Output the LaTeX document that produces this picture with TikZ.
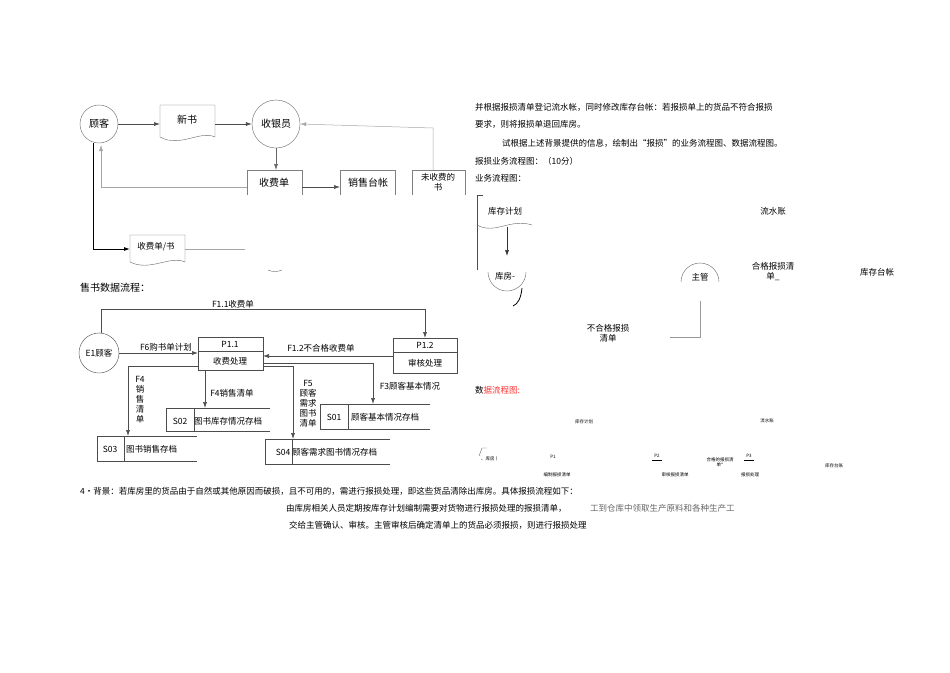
\documentclass[tikz,border=0pt]{standalone}
\usepackage{fontspec}
\setmainfont{Noto Sans CJK SC}
\usetikzlibrary{arrows.meta}
\begin{document}
\begin{tikzpicture}[x=1pt,y=-1pt,
  t/.style={font=\fontsize{10}{12}\selectfont,inner sep=0pt},
  ts/.style={font=\fontsize{8.5}{10}\selectfont,inner sep=0pt},
  tt/.style={font=\fontsize{4.5}{5}\selectfont,inner sep=0pt},
  ln/.style={draw=black!70,line width=0.6pt},
  ar/.style={ln,-{Latex[length=6pt,width=4pt]}},
  thin/.style={draw=black!35,line width=0.5pt}]
\useasboundingbox (0,0) rectangle (950,672);
% ---------- top-left business flow
\node[circle,draw=black!60,minimum size=38pt,t] (gk) at (99,124) {顾客};
\draw[draw=black!60] (160,105) -- (215,105) -- (215,137) .. controls (200,130) and (180,148) .. (160,137) -- cycle;
\node[t] (xs) at (187,120) {新书};
\node[circle,draw=black!60,minimum size=48pt,t] (sy) at (276,124) {收银员};
\draw[ar] (gk.east) -- (160,124);
\draw[ar] (215,124) -- (sy.west);
\draw[draw=black!50] (247,195) -- (247,170) -- (302,170) -- (302,195);
\node[t] (sfd) at (274,183) {收费单};
\draw[draw=black!50] (340,195) -- (340,170) -- (395,170) -- (395,195);
\node[t] (xstz) at (368,183) {销售台帐};
\draw[draw=black!50] (412,195) -- (412,170) -- (465,170) -- (465,195);
\node[ts,align=center] (wsf) at (438,182) {未收费的\\书};
\draw[ar,draw=black!60] (sy.south) -- (276,170);
\draw[ar] (302,187) -- (340,187);
\draw[thin,-{Latex[length=6pt,width=4pt]}] (247,187) -- (101,187) -- (101,145);
\draw[thin,-{Latex[length=6pt,width=4pt]}] (433,170) -- (433,128) -- (sy.east);
\draw[draw=black!60] (130,235) -- (185,235) -- (185,262) .. controls (170,255) and (150,272) .. (130,262) -- cycle;
\node[ts] (sfs) at (156,247) {收费单/书};
\draw[line width=0.9pt,-{Latex[length=6pt,width=4pt]}] (93,143) -- (93,249) -- (130,249);
\draw[thin] (185,249) -- (245,249);
\draw[draw=black!60] (268,270) .. controls (272,272) and (278,272) .. (282,270);
\node[t,anchor=west] (sst) at (80,288) {售书数据流程：};
% ---------- DFD
\node[circle,draw=black!70,minimum size=40pt,ts] (e1) at (99,353) {E1顾客};
\draw[draw=black!70] (198,337) rectangle (263,370); \draw[draw=black!70] (198,351) -- (263,351);
\node[ts] (p11) at (230,344) {P1.1}; \node[ts] (p11b) at (230,361) {收费处理};
\draw[draw=black!70] (393,338) rectangle (457,373); \draw[draw=black!70] (393,352) -- (457,352);
\node[ts] (p12) at (425,345) {P1.2}; \node[ts] (p12b) at (425,363) {审核处理};
\draw[ar] (101,333) -- (101,309) -- (425,309) -- (425,338);
\node[ts] (f11) at (233,304) {F1.1收费单};
\draw[ar] (e1.east) -- (198,353);
\node[ts] (f6) at (166,347) {F6购书单计划};
\draw[ar] (393,356) -- (263,356);
\node[ts] (f12) at (321,348) {F1.2不合格收费单};
\draw[ar] (198,366) -- (128,366) -- (128,436);
\node[ts,align=center] (f4a) at (140,400) {F4\\销\\售\\清\\单};
\draw[ar] (205,370) -- (205,408);
\node[ts] (f4b) at (232,393) {F4销售清单};
\draw[ar] (263,366) -- (293,366) -- (293,439);
\node[ts,align=center] (f5) at (308,404) {F5\\顾客\\需求\\图书\\清单};
\draw[ar] (263,363) -- (373,363) -- (373,404);
\node[ts] (f3) at (410,386) {F3顾客基本情况};
\draw[draw=black!70] (430,404) -- (320,404) -- (320,429) -- (430,429); \draw[draw=black!70] (348,404) -- (348,429);
\node[ts] (s01) at (334,417) {S01}; \node[ts,anchor=west] (s01t) at (351,417) {顾客基本情况存档};
\draw[draw=black!70] (270,408) -- (166,408) -- (166,431) -- (270,431); \draw[draw=black!70] (194,408) -- (194,431);
\node[ts] (s02) at (180,421) {S02}; \node[ts,anchor=west] (s02t) at (194,421) {图书库存情况存档};
\draw[draw=black!70] (197,436) -- (97,436) -- (97,461) -- (197,461); \draw[draw=black!70] (124,436) -- (124,461);
\node[ts] (s03) at (110,449) {S03}; \node[ts,anchor=west] (s03t) at (126,449) {图书销售存档};
\draw[draw=black!70] (390,439) -- (265,439) -- (265,464) -- (390,464); \draw[draw=black!70] (292,439) -- (292,464);
\node[ts] (s04) at (283,452) {S04}; \node[ts,anchor=west] (s04t) at (292,452) {顾客需求图书情况存档};
% ---------- right text
\node[ts,anchor=west] (r1) at (475,107) {并根据报损清单登记流水帐，同时修改库存台帐：若报损单上的货品不符合报损};
\node[ts,anchor=west] (r2) at (475,124) {要求，则将报损单退回库房。};
\node[ts,anchor=west] (r3) at (502,143) {试根据上述背景提供的信息，绘制出“报损”的业务流程图、数据流程图。};
\node[ts,anchor=west] (r4) at (475,161) {报损业务流程图：（10分）};
\node[ts,anchor=west] (r5) at (475,178) {业务流程图：};
% business flow (report)
\draw[draw=black!70] (483,195) -- (477,195) -- (477,270);
\draw[draw=black!60] (477,225) .. controls (495,235) and (510,218) .. (532,225);
\node[ts] (kcjh) at (505,211) {库存计划};
\draw[ar,draw=black!80] (507,227) -- (507,256);
\draw[draw=black!60] (488,272) arc (180:0:19);
\node[ts] (kf) at (505,276) {库房-};
\draw[line width=0.8pt] (513,306) .. controls (518,304) and (521,298) .. (522,288);
\node[ts] (lsz) at (773,211) {流水账};
\node[ts] (zg) at (700,277) {主管};
\draw[draw=black!60] (681,282) arc (180:360:19);
\node[ts,align=center] (hg) at (773,272) {合格报损清\\单\_};
\node[ts] (kctz) at (877,272) {库存台帐};
\node[ts,align=center] (bhg) at (608,333) {不合格报损\\清单};
\draw[draw=black!40] (700,301) -- (700,337) -- (670,337);
% DFD small
\node[ts,anchor=west] (sj) at (475,390) {数\textcolor{red!80}{据流程图:}};
\node[tt] (a1) at (584,422) {库存计划};
\node[tt] (a2) at (767,421) {流水账};
\node[tt] (a3) at (490,459) {、库房丨};
\draw[draw=black!60] (479,456) -- (482,448) -- (487,448);
\node[tt] (a4) at (553,457) {P1};
\node[tt] (a5) at (657,456) {P2}; \draw (652,460) -- (662,460);
\node[tt,align=center] (a6) at (720,462) {合格的报损清\\单*};
\node[tt] (a7) at (749,456) {P3}; \draw (744,460) -- (754,460);
\node[tt] (a8) at (834,466) {库存台账};
\node[tt] (a9) at (557,475) {编制报损清单};
\node[tt] (a10) at (675,475) {审核报损清单};
\node[tt] (a11) at (750,475) {报损处理};
% bottom text
\node[ts,anchor=west] (b1) at (80,491) {4•背景：若库房里的货品由于自然或其他原因而破损，且不可用的，需进行报损处理，即这些货品清除出库房。具体报损流程如下：};
\node[ts,anchor=west] (b2) at (286,508) {由库房相关人员定期按库存计划编制需要对货物进行报损处理的报损清单，};
\node[ts,anchor=west,text=black!60] (b2x) at (590,508) {工到仓库中领取生产原料和各种生产工};
\node[ts,anchor=west] (b3) at (289,525) {交给主管确认、审核。主管审核后确定清单上的货品必须报损，则进行报损处理};
\end{tikzpicture}
\end{document}
